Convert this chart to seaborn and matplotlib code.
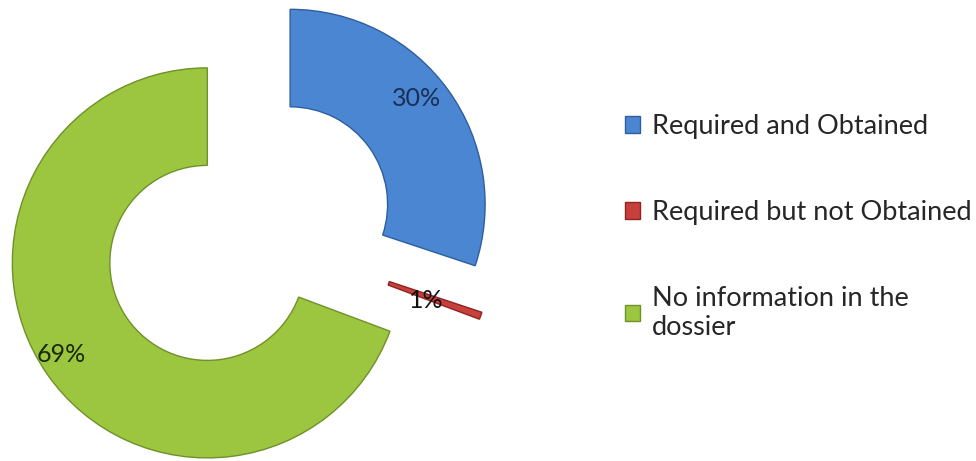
import matplotlib
matplotlib.use("Agg")
import matplotlib.pyplot as plt
import seaborn as sns

categories = ["Required and Obtained", "Required but not Obtained", "No information in the\ndossier"]
values = [30.1, 0.6, 69.3]
colors = ["#4A86D2", "#C8403C", "#9DC640"]
edge_colors = ["#2E5E9E", "#8E2422", "#6E9128"]
label_colors = ["#1B2F55", "#111111", "#1A2A08"]

sns.set_theme(style="white")
plt.rcParams['font.family'] = ['Lato', 'DejaVu Sans']

fig = plt.figure(figsize=(9.76, 4.61), dpi=100)
ax = fig.add_axes([0, 0, 500 / 976, 1])

wedges, texts, autotexts = ax.pie(
    values,
    colors=colors,
    startangle=90,
    counterclock=False,
    explode=[0.26] * len(values),
    radius=1.0,
    wedgeprops=dict(width=0.5, linewidth=1.0),
    autopct="%.0f%%",
    pctdistance=0.86,
    textprops=dict(fontsize=18),
)
for w, ec in zip(wedges, edge_colors):
    w.set_edgecolor(ec)
for t, c in zip(autotexts, label_colors):
    t.set_color(c)
# nudge labels to match the reference placement
x, y = autotexts[0].get_position()
autotexts[0].set_position((x - 0.05, y + 0.04))
x, y = autotexts[1].get_position()
autotexts[1].set_position((x * 0.86, y * 0.86 - 0.02))
x, y = autotexts[2].get_position()
autotexts[2].set_position((x - 0.04, y + 0.02))

ax.set_xlim(-249 / 195, 251 / 195)
ax.set_ylim(-227 / 195, 234 / 195)
ax.set_aspect("auto")
ax.axis("off")

fig.legend(
    wedges, categories,
    loc="upper left",
    bbox_to_anchor=(625 / 976, 1 - 114 / 461),
    frameon=False,
    fontsize=19.5,
    handlelength=0.55,
    handleheight=0.55,
    handletextpad=0.45,
    labelspacing=2.25,
    borderpad=0,
    borderaxespad=0,
)

fig.savefig("out.png", dpi=100, facecolor="white")
